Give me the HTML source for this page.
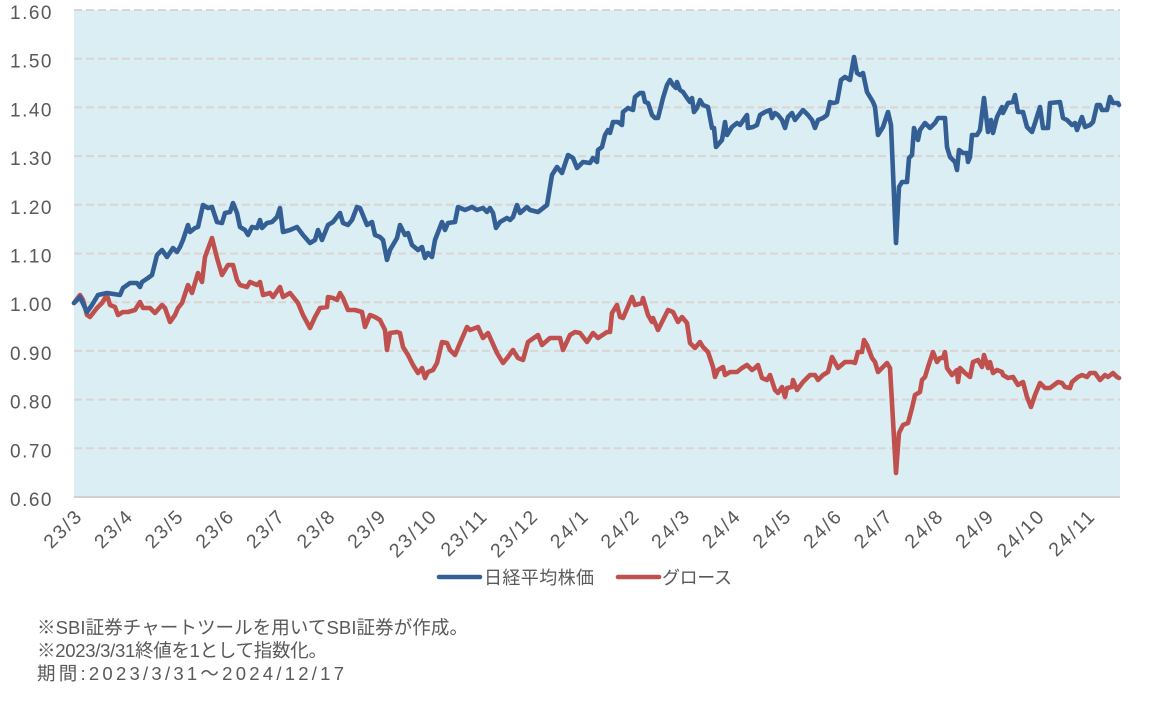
<!DOCTYPE html>
<html><head><meta charset="utf-8"><style>
html,body{margin:0;padding:0;background:#fff;}
body{width:1164px;height:720px;overflow:hidden;}
svg{display:block;font-family:"Liberation Sans","Noto Sans CJK JP",sans-serif;}
</style></head><body>
<svg width="1164" height="720" viewBox="0 0 1164 720" xmlns="http://www.w3.org/2000/svg">
<rect x="74" y="10" width="1046" height="487" fill="#DAEEF3"/>
<g stroke="#D9D5D3" stroke-width="2" stroke-dasharray="8 4">
<line x1="74" y1="10" x2="1120" y2="10"/>
<line x1="74" y1="58.7" x2="1120" y2="58.7"/>
<line x1="74" y1="107.4" x2="1120" y2="107.4"/>
<line x1="74" y1="156.1" x2="1120" y2="156.1"/>
<line x1="74" y1="204.8" x2="1120" y2="204.8"/>
<line x1="74" y1="253.5" x2="1120" y2="253.5"/>
<line x1="74" y1="302.2" x2="1120" y2="302.2"/>
<line x1="74" y1="350.9" x2="1120" y2="350.9"/>
<line x1="74" y1="399.6" x2="1120" y2="399.6"/>
<line x1="74" y1="448.3" x2="1120" y2="448.3"/>
</g>
<line x1="74" y1="497" x2="1120" y2="497" stroke="#D0D0D0" stroke-width="2"/>
<g fill="#595959" font-size="19" letter-spacing="1.5" text-anchor="end">
<text x="53" y="19">1.60</text>
<text x="53" y="67.7">1.50</text>
<text x="53" y="116.4">1.40</text>
<text x="53" y="165.1">1.30</text>
<text x="53" y="213.8">1.20</text>
<text x="53" y="262.5">1.10</text>
<text x="53" y="311.2">1.00</text>
<text x="53" y="359.9">0.90</text>
<text x="53" y="408.6">0.80</text>
<text x="53" y="457.3">0.70</text>
<text x="53" y="506">0.60</text>
</g>
<g fill="#595959" font-size="19.5" letter-spacing="2" text-anchor="end">
<text transform="translate(84,517) rotate(-45)">23/3</text>
<text transform="translate(134.65,517) rotate(-45)">23/4</text>
<text transform="translate(185.3,517) rotate(-45)">23/5</text>
<text transform="translate(235.95,517) rotate(-45)">23/6</text>
<text transform="translate(286.6,517) rotate(-45)">23/7</text>
<text transform="translate(337.25,517) rotate(-45)">23/8</text>
<text transform="translate(387.9,517) rotate(-45)">23/9</text>
<text transform="translate(438.55,517) rotate(-45)">23/10</text>
<text transform="translate(489.2,517) rotate(-45)">23/11</text>
<text transform="translate(539.85,517) rotate(-45)">23/12</text>
<text transform="translate(590.5,517) rotate(-45)">24/1</text>
<text transform="translate(641.15,517) rotate(-45)">24/2</text>
<text transform="translate(691.8,517) rotate(-45)">24/3</text>
<text transform="translate(742.45,517) rotate(-45)">24/4</text>
<text transform="translate(793.1,517) rotate(-45)">24/5</text>
<text transform="translate(843.75,517) rotate(-45)">24/6</text>
<text transform="translate(894.4,517) rotate(-45)">24/7</text>
<text transform="translate(945.05,517) rotate(-45)">24/8</text>
<text transform="translate(995.7,517) rotate(-45)">24/9</text>
<text transform="translate(1046.35,517) rotate(-45)">24/10</text>
<text transform="translate(1097,517) rotate(-45)">24/11</text>
</g>
<polyline fill="none" stroke="#C0504D" stroke-width="4.6" stroke-linejoin="round" stroke-linecap="round" points="74,303 80,295 83,300 87,315 90,317 97,308 102,303 107,295 110,305 115,307 118,315 123,312 128,312 135,310 140,302 143,308 150,308 155,313 162,305 165,308 170,322 175,315 178,308 182,303 188,285 192,293 198,273 202,282 205,257 212,238 217,258 222,275 228,265 233,265 237,280 240,285 247,287 250,282 257,285 260,282 263,295 270,293 273,297 280,287 283,297 290,293 298,303 303,315 310,328 315,317 320,308 327,307 328,297 333,298 337,300 340,293 343,298 348,310 355,310 362,312 365,327 370,315 375,317 380,320 385,330 387,350 390,333 397,332 400,333 403,347 408,355 413,365 418,373 422,368 425,378 428,372 433,370 437,363 442,342 447,343 450,350 455,355 460,343 467,327 470,330 478,327 483,338 488,333 497,353 503,363 508,357 513,350 518,358 523,360 528,342 538,335 542,345 550,338 560,338 563,350 570,335 575,332 580,333 587,342 593,333 598,338 607,332 610,332 612,313 617,305 620,317 623,318 632,297 635,305 642,303 643,298 648,315 652,322 653,318 658,330 668,310 673,312 678,322 682,317 687,323 690,343 695,348 700,342 703,347 708,352 713,367 715,377 718,370 723,367 725,375 730,372 737,372 742,368 747,365 752,370 755,368 758,365 762,378 767,380 770,375 775,390 778,393 782,387 785,397 787,388 792,387 793,380 797,390 803,382 810,375 815,375 818,380 823,375 828,372 832,357 838,368 845,362 852,362 855,363 858,352 862,352 864,340 867,345 872,358 875,362 878,372 883,367 887,363 890,368 896,473 899,433 903,425 908,423 912,408 915,395 920,392 922,380 925,377 928,367 933,352 937,362 940,358 943,358 945,352 947,368 952,375 957,370 958,382 960,368 965,373 970,377 973,362 978,360 982,367 984,355 988,368 990,362 993,373 997,370 1002,372 1003,375 1008,378 1013,377 1018,385 1023,382 1027,397 1031,407 1035,395 1040,383 1045,388 1050,388 1058,382 1062,383 1065,387 1070,388 1072,382 1078,377 1082,375 1087,377 1090,373 1095,373 1100,380 1105,375 1108,377 1113,373 1117,377 1119,378"/>
<polyline fill="none" stroke="#335F95" stroke-width="4.6" stroke-linejoin="round" stroke-linecap="round" points="74,303 80,297 87,312 92,305 98,295 107,293 120,295 123,288 130,283 137,283 140,287 142,282 148,278 152,275 157,255 162,250 167,257 173,248 177,252 180,247 183,240 188,225 190,232 195,228 198,227 203,205 208,208 212,207 217,222 222,223 225,213 230,212 233,203 237,213 240,227 245,230 248,235 252,227 257,228 260,220 262,228 267,223 272,222 277,217 280,208 283,232 290,230 297,227 303,235 310,243 315,240 318,230 322,240 328,225 333,222 340,213 343,223 348,225 352,220 357,207 360,208 367,225 372,222 375,235 380,237 383,240 387,260 390,250 397,238 400,225 405,235 408,233 412,245 418,250 422,247 425,258 428,253 432,257 435,240 442,222 445,230 448,223 455,222 458,207 465,210 472,207 477,210 483,208 487,212 490,208 493,213 496,228 500,222 507,218 510,220 513,217 517,205 520,213 527,207 530,210 538,212 547,205 552,175 557,167 562,173 568,155 573,158 577,168 583,162 590,163 593,158 597,162 598,150 602,147 605,135 608,130 610,133 613,122 618,122 622,125 623,112 628,108 633,110 635,97 640,93 643,93 645,102 648,103 652,115 655,118 658,118 663,98 667,85 670,80 673,85 676,88 677,82 680,90 683,92 687,98 690,102 692,98 694,112 697,108 700,100 703,105 708,107 712,128 714,128 716,147 722,140 725,122 727,135 732,127 737,123 740,125 747,115 748,128 753,127 757,125 760,115 765,112 770,110 772,118 775,113 778,115 782,120 785,128 788,117 792,113 795,120 803,110 808,115 812,120 815,128 818,120 823,118 827,115 830,102 833,103 837,102 841,80 845,77 850,80 854,57 857,73 860,75 863,73 867,92 870,97 873,102 875,107 878,135 883,127 888,112 891,125 896,243 899,187 902,182 907,182 909,158 912,155 914,128 918,140 920,130 925,123 930,128 935,123 938,118 945,118 947,147 950,157 955,162 957,170 959,150 963,153 967,153 968,162 970,157 972,135 977,135 980,130 984,98 988,132 991,120 993,133 997,117 1002,107 1003,113 1008,103 1013,102 1015,95 1018,112 1023,112 1027,127 1032,132 1035,123 1040,107 1043,128 1048,128 1050,103 1060,102 1063,118 1067,120 1072,125 1075,123 1077,130 1082,117 1085,127 1090,125 1093,122 1097,105 1100,105 1102,110 1107,110 1110,97 1113,103 1118,103 1119,105"/>
<line x1="439" y1="577" x2="480" y2="577" stroke="#335F95" stroke-width="4.6" stroke-linecap="round"/>
<text x="484" y="584" fill="#595959" font-size="18" textLength="110" lengthAdjust="spacing">日経平均株価</text>
<line x1="618" y1="577" x2="659" y2="577" stroke="#C0504D" stroke-width="4.6" stroke-linecap="round"/>
<text x="662" y="584" fill="#595959" font-size="18" textLength="70" lengthAdjust="spacing">グロース</text>
<g fill="#595959" font-size="18.5">
<text x="37" y="634" textLength="431" lengthAdjust="spacing">※SBI証券チャートツールを用いてSBI証券が作成。</text>
<text x="37" y="657" textLength="290" lengthAdjust="spacing">※2023/3/31終値を1として指数化。</text>
<text x="37" y="680" textLength="307" lengthAdjust="spacing">期間:2023/3/31～2024/12/17</text>
</g>
</svg>
</body></html>
